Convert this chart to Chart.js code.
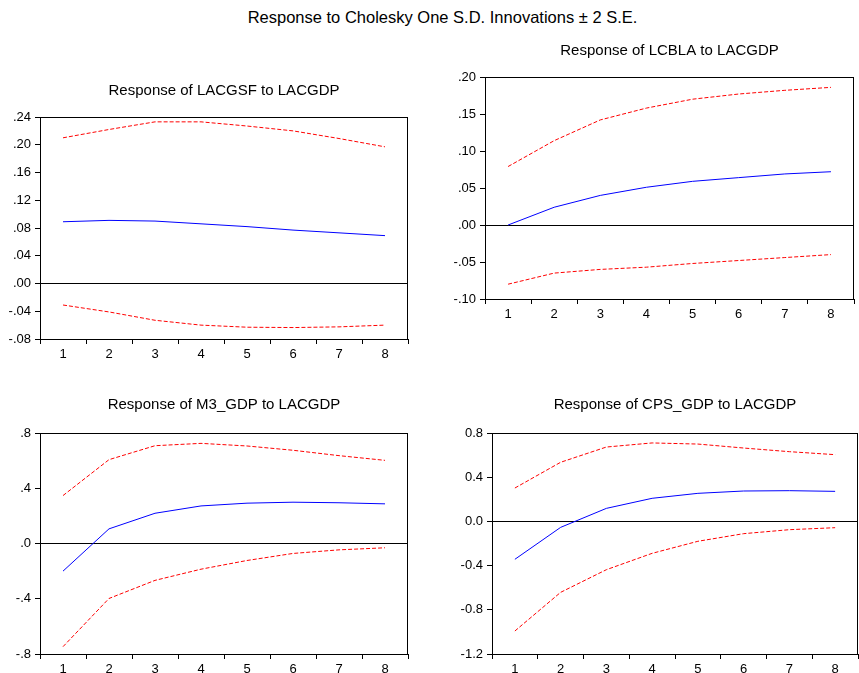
<!DOCTYPE html>
<html>
<head>
<meta charset="utf-8">
<script src="https://cdn.jsdelivr.net/npm/chart.js@4/dist/chart.umd.min.js"></script>
<style>
    html, body { margin: 0; padding: 0; background: #fff; overflow: hidden; }
    #page { position: relative; width: 859px; height: 673px; }
    #mainTitle {
        position: absolute; left: 0; top: 6px; width: 885px; text-align: center;
        font: 16.5px "Liberation Sans", Arial, sans-serif; line-height: 22px; color: #000;
    }
    canvas { position: absolute; }
</style>
</head>
<body>
<div id="page">
    <div id="mainTitle">Response to Cholesky One S.D. Innovations ± 2 S.E.</div>
    <canvas id="gsfChart"></canvas>
    <canvas id="cblaChart"></canvas>
    <canvas id="m3Chart"></canvas>
    <canvas id="cpsChart"></canvas>
</div>
<script>
// Periods on the x axis
const periods = ['1', '2', '3', '4', '5', '6', '7', '8'];

// Response of LACGSF to LACGDP
const gsfResponse = [0.089, 0.091, 0.090, 0.086, 0.082, 0.077, 0.073, 0.069];
const gsfUpper = [0.210, 0.222, 0.233, 0.233, 0.227, 0.220, 0.209, 0.197];
const gsfLower = [-0.031, -0.041, -0.053, -0.060, -0.063, -0.0635, -0.0625, -0.060];
const gsfTicks = [-0.08, -0.04, 0, 0.04, 0.08, 0.12, 0.16, 0.20, 0.24];
const gsfTickLabels = ['-.08', '-.04', '.00', '.04', '.08', '.12', '.16', '.20', '.24'];

// Response of LCBLA to LACGDP
const cblaResponse = [0.000, 0.024, 0.040, 0.051, 0.059, 0.064, 0.069, 0.072];
const cblaUpper = [0.079, 0.114, 0.142, 0.158, 0.170, 0.177, 0.182, 0.186];
const cblaLower = [-0.080, -0.065, -0.060, -0.057, -0.052, -0.048, -0.044, -0.040];
const cblaTicks = [-0.10, -0.05, 0, 0.05, 0.10, 0.15, 0.20];
const cblaTickLabels = ['-.10', '-.05', '.00', '.05', '.10', '.15', '.20'];

// Response of M3_GDP to LACGDP
const m3Response = [-0.200, 0.106, 0.219, 0.272, 0.292, 0.299, 0.295, 0.287];
const m3Upper = [0.347, 0.607, 0.708, 0.725, 0.706, 0.675, 0.636, 0.602];
const m3Lower = [-0.747, -0.398, -0.267, -0.186, -0.123, -0.072, -0.046, -0.031];
const m3Ticks = [-0.8, -0.4, 0, 0.4, 0.8];
const m3TickLabels = ['-.8', '-.4', '.0', '.4', '.8'];

// Response of CPS_GDP to LACGDP
const cpsResponse = [-0.343, -0.054, 0.118, 0.209, 0.254, 0.275, 0.278, 0.272];
const cpsUpper = [0.302, 0.535, 0.673, 0.710, 0.700, 0.664, 0.631, 0.604];
const cpsLower = [-0.992, -0.642, -0.437, -0.289, -0.180, -0.111, -0.075, -0.057];
const cpsTicks = [-1.2, -0.8, -0.4, 0, 0.4, 0.8];
const cpsTickLabels = ['-1.2', '-0.8', '-0.4', '0.0', '0.4', '0.8'];


const FONT = '"Liberation Sans", Arial, sans-serif';

/* Draws the closed box round the plot area
*/
const frameBox = {
    id: 'frameBox',
    afterDraw: (chart) => {
        const a = chart.chartArea;
        const ctx = chart.ctx;
        ctx.save();
        ctx.strokeStyle = '#000';
        ctx.lineWidth = 1;
        ctx.strokeRect(Math.round(a.left) + 0.5, Math.round(a.top) + 0.5,
            Math.round(a.right - a.left) - 1, Math.round(a.bottom - a.top));
        ctx.restore();
    }
};

/* Builds one impulse response panel
   box: canvas placement and plot area sizes
*/
const buildPanel = (id, title, response, upper, lower, ticks, tickLabels, box) => {
    const canvas = document.getElementById(id);
    canvas.style.left = box.left + 'px';
    canvas.style.top = box.top + 'px';
    canvas.width = box.width;
    canvas.height = box.height;

    const band = (values) => ({
        data: values,
        borderColor: '#ff0000',
        borderWidth: 1,
        borderDash: [4, 2],
        pointRadius: 0,
        tension: 0,
        fill: false
    });

    const config = {
        type: 'line',
        data: {
            labels: periods,
            datasets: [
                {
                    data: response,
                    borderColor: '#0000ff',
                    borderWidth: 1,
                    pointRadius: 0,
                    tension: 0,
                    fill: false
                },
                band(upper),
                band(lower)
            ]
        },
        options: {
            responsive: false,
            animation: false,
            layout: { padding: { left: 0, right: box.padRight, top: 0, bottom: 0 } },
            plugins: {
                legend: { display: false },
                tooltip: { enabled: false },
                title: {
                    display: true,
                    text: title,
                    fullSize: false,
                    color: '#000',
                    font: { family: FONT, size: 15, weight: 'normal', lineHeight: 1.2 },
                    padding: { top: box.titleTop, bottom: box.titleBottom }
                }
            },
            scales: {
                x: {
                    type: 'category',
                    offset: true,
                    grid: {
                        offset: true,
                        drawOnChartArea: false,
                        tickLength: 5,
                        tickColor: '#000'
                    },
                    border: { display: true, color: '#000', width: 1 },
                    ticks: {
                        color: '#000',
                        font: { family: FONT, size: 13 },
                        padding: 3,
                        maxRotation: 0,
                        autoSkip: false
                    },
                    afterFit: (scale) => { scale.height = box.axisHeight; }
                },
                y: {
                    min: ticks[0],
                    max: ticks[ticks.length - 1],
                    afterBuildTicks: (scale) => {
                        scale.ticks = ticks.map((v) => ({ value: v }));
                    },
                    grid: {
                        // only the zero line crosses the plot
                        color: (ctx) => ctx.tick && ctx.tick.value === 0 ? '#000' : 'rgba(0,0,0,0)',
                        tickColor: '#000',
                        tickLength: 5,
                        lineWidth: 1
                    },
                    border: { display: true, color: '#000', width: 1 },
                    ticks: {
                        color: '#000',
                        font: { family: FONT, size: 13 },
                        padding: 4,
                        callback: (value, index) => tickLabels[index]
                    },
                    afterFit: (scale) => { scale.width = box.axisWidth; }
                }
            }
        },
        plugins: [frameBox]
    };

    new Chart(canvas.getContext('2d'), config);
};

document.addEventListener('DOMContentLoaded', () => {
    buildPanel('gsfChart', 'Response of LACGSF to LACGDP',
        gsfResponse, gsfUpper, gsfLower, gsfTicks, gsfTickLabels,
        { left: 0, top: 70, width: 420, height: 300, padRight: 12,
          titleTop: 12, titleBottom: 17, axisWidth: 40, axisHeight: 31 });

    buildPanel('cblaChart', 'Response of LCBLA to LACGDP',
        cblaResponse, cblaUpper, cblaLower, cblaTicks, cblaTickLabels,
        { left: 430, top: 30, width: 429, height: 300, padRight: 5,
          titleTop: 12, titleBottom: 17, axisWidth: 55, axisHeight: 31 });

    buildPanel('m3Chart', 'Response of M3_GDP to LACGDP',
        m3Response, m3Upper, m3Lower, m3Ticks, m3TickLabels,
        { left: 0, top: 384, width: 420, height: 289, padRight: 12,
          titleTop: 12, titleBottom: 19, axisWidth: 40, axisHeight: 19 });

    buildPanel('cpsChart', 'Response of CPS_GDP to LACGDP',
        cpsResponse, cpsUpper, cpsLower, cpsTicks, cpsTickLabels,
        { left: 430, top: 384, width: 429, height: 289, padRight: 1,
          titleTop: 12, titleBottom: 19, axisWidth: 62, axisHeight: 19 });
});
</script>
</body>
</html>
